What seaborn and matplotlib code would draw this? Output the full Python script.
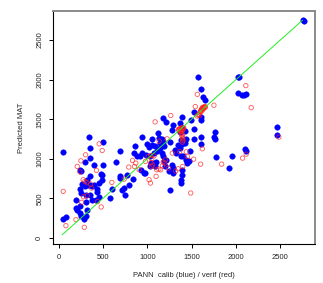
import numpy as np
import pandas as pd
import seaborn as sns
import matplotlib.pyplot as plt

# calibration points (blue)
calib_obs = [45, 45, 79, 191, 191, 210, 240, 240, 255, 285, 308, 322, 304, 248, 240, 262,
             240, 251, 296, 308, 322, 352, 345, 356, 352, 296, 397, 352, 371, 334, 397,
             435, 435, 420, 457, 472, 491, 502, 495, 371, 352, 487, 450,
             577, 604, 645, 690, 697, 697, 720, 739, 746, 776, 791, 840, 855, 866, 889,
             915, 938, 945, 934, 960, 979, 998, 990, 1016, 1028, 1031, 1046, 1050, 1073,
             1088, 1110, 1095, 1076, 1091, 1125, 1133, 1140, 1148, 1166, 1174, 1185,
             1166, 1178, 1193, 1204, 1215, 1249, 1253, 1260, 1282, 1290, 1294, 1316,
             1320, 1343, 1365, 1384, 1387, 1380, 1387, 1391, 1384, 1384, 1402, 1440,
             1447, 1470, 1481, 1429, 1432, 1425, 1395, 1365, 1365, 1395, 1290, 1282,
             1211, 1174, 1058,
             1489, 1526, 1530, 1530, 1609, 1601, 1601, 1605, 1601, 1631, 1654, 1575,
             1762, 1755, 1759, 1770, 1950, 1920, 2025, 2037, 2021, 2066, 2090, 2115,
             2104, 2108, 2464, 2464, 2750, 2762]
calib_pred = [1088, 239, 260, 483, 378, 349, 407, 315, 273, 244, 281, 357, 454, 567, 622, 680,
              861, 840, 651, 546, 735, 777, 1281, 1138, 1008, 958, 916, 672, 651, 672, 672,
              617, 575, 483, 693, 811, 798, 920, 1210, 483, 546, 735, 517,
              508, 622, 953, 777, 1100, 756, 609, 626, 538, 790, 664, 748, 1071, 1155, 1037,
              1029, 1273, 1071, 861, 819, 819, 1189, 1050, 1151, 1029, 903, 945, 1247, 1071,
              1155, 1092, 953, 945, 903, 1323, 1260, 1197, 1134, 1252, 1218, 1155,
              1071, 1029, 966, 903, 987, 840, 609, 1210, 924, 882, 819, 1113,
              1079, 1176, 1134, 1239, 1189, 1029, 861, 798, 735, 693, 1029, 987,
              945, 966, 1100, 1197, 1247, 1348, 1386, 1344, 1449, 1525, 1428, 1365,
              1462, 1520, 1176,
              1491, 1588, 1373, 1247, 1525, 1281, 1189, 1491, 1882, 1777, 1743, 2037,
              1344, 1273, 1247, 1021, 1029, 878, 2037, 2037, 1831, 1802, 1810, 1814,
              1117, 1092, 1407, 1302, 2750, 2745]

# verification points (red)
verif_obs = [52, 82, 195, 289, 210, 251, 304, 240, 277, 296, 322, 371, 427, 457, 491,
             480, 439, 600, 739, 791, 833, 855, 870, 908, 979, 1009, 1020, 1035, 1046,
             1076, 1088, 1099, 1106, 1133, 1170, 1178, 1196, 1204, 1223, 1238, 1264,
             1282, 1320, 1346, 1365, 1399, 1440, 1451, 1489, 1522, 1601, 1620, 1564,
             1541, 1751, 1838, 2074, 2111, 2171, 2115, 2483,
             1350, 1360, 1370, 1380, 1395, 1400, 1385, 1410, 1385, 1390, 1400, 1395,
             1355, 1365, 1375, 1390, 1405, 1372, 1398, 1402, 1395,
             1580, 1600, 1610, 1620, 1640, 1650, 1630, 1590, 1560,
             1595, 1605, 1615, 1625, 1635, 1645, 1655, 1612, 1628, 1570,
             1040, 1050, 1040, 1060, 1130, 1150, 360, 320, 280, 260]
verif_pred = [588, 155, 231, 134, 903, 974, 1050, 832, 735, 714, 533, 630, 853, 1189, 1105,
              391, 458, 701, 743, 895, 979, 903, 945, 861, 966, 1029, 735, 693, 903,
              1037, 1466, 777, 861, 1222, 911, 958, 945, 987, 1252, 882, 1546,
              1071, 844, 874, 1092, 903, 1088, 1029, 567, 995, 932, 1126, 1814,
              1659, 1676, 932, 1008, 1924, 1646, 1058, 1273,
              1370, 1360, 1375, 1385, 1395, 1360, 1350, 1395, 1320, 1290, 1250, 1210,
              1365, 1380, 1355, 1370, 1380, 1340, 1305, 1230, 1270,
              1560, 1600, 1620, 1640, 1650, 1660, 1630, 1545, 1540,
              1590, 1610, 1630, 1650, 1645, 1655, 1650, 1600, 1625, 1555,
              1040, 1000, 950, 920, 870, 860, 680, 700, 520, 450]

# 1:1 line
line_x = [40, 2750]
line_y = [40, 2750]

calib = pd.DataFrame({"obs": calib_obs, "pred": calib_pred})
verif = pd.DataFrame({"obs": verif_obs, "pred": verif_pred})

sns.set_theme(style="white")
plt.rcParams["font.family"] = ["Liberation Sans", "DejaVu Sans"]

fig = plt.figure(figsize=(3.23, 2.83), dpi=100)
ax = fig.add_axes([0.164, 0.138, 0.811, 0.823])

sns.scatterplot(data=calib, x="obs", y="pred", ax=ax, color="#0000ff",
                s=16, edgecolor="#0000ff", linewidth=0.3, zorder=2)
ax.scatter(verif["obs"], verif["pred"], s=10, facecolors="none",
           edgecolors="#ff2020", linewidths=0.6, alpha=0.75, zorder=3)
sns.lineplot(x=line_x, y=line_y, ax=ax, color="#22ee22", linewidth=0.7, zorder=4)

ax.set_xlim(-64, 2890)
ax.set_ylim(-76, 2866)
ax.set_xticks([0, 500, 1000, 1500, 2000, 2500])
ax.set_yticks([0, 500, 1000, 1500, 2000, 2500])
ax.tick_params(axis="both", which="major", direction="out", length=3, width=0.7,
               labelsize=5.5, pad=4, bottom=True, left=True, color="black")
plt.setp(ax.get_yticklabels(), rotation=90, va="center")

for side in ["left", "bottom"]:
    ax.spines[side].set_color("black")
    ax.spines[side].set_linewidth(0.8)
for side in ["top", "right"]:
    ax.spines[side].set_color("#8a8a8a")
    ax.spines[side].set_linewidth(1.4)

ax.set_xlabel("PANN  calib (blue) / verif (red)", fontsize=5.5, labelpad=8)
ax.set_ylabel("Predicted MAT", fontsize=5.5, labelpad=8)

fig.savefig("out.png", dpi=100)
